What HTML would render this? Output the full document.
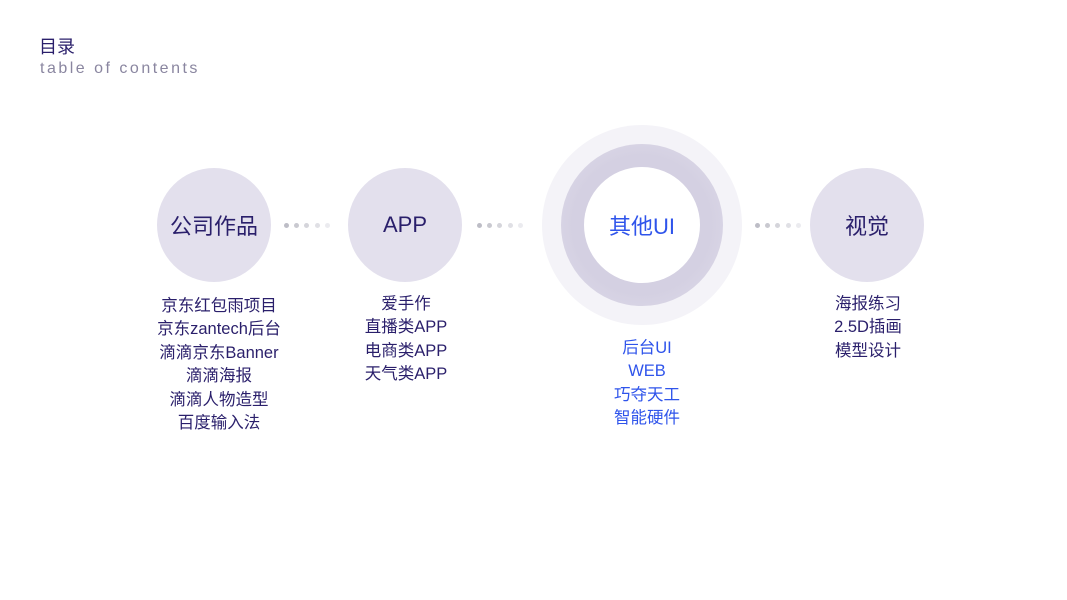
<!DOCTYPE html>
<html><head><meta charset="utf-8"><style>
body{margin:0;width:1067px;height:600px;background:#fff;position:relative;overflow:hidden;font-family:"Liberation Sans","Noto Sans CJK SC",sans-serif}
.a{position:absolute}
.c{position:absolute;border-radius:50%;background:#e3e0ed;display:flex;align-items:center;justify-content:center;color:#2a1f6b;font-size:22px}
.l{position:absolute;text-align:center;color:#2a1f6b;font-size:16.5px;line-height:23.4px;width:200px}
.d{position:absolute;width:5px;height:5px;border-radius:50%}
</style></head><body>
<div class="a" style="left:39px;top:33px;font-size:18px;color:#2a1f6b">目录</div>
<div class="a" style="left:40px;top:60px;font-size:16px;color:#8a86a0;letter-spacing:2.5px">table of contents</div>

<div class="c" style="left:157px;top:168px;width:114px;height:114px">公司作品</div>
<div class="c" style="left:348px;top:168px;width:114px;height:114px">APP</div>
<div class="c" style="left:810px;top:168px;width:114px;height:114px">视觉</div>

<div class="a" style="left:542px;top:125px;width:200px;height:200px;border-radius:50%;background:#f4f3f8"></div>
<div class="a" style="left:561px;top:144px;width:162px;height:162px;border-radius:50%;background:radial-gradient(circle,#d4d0e2 60%,#e0ddea 100%)"></div>
<div class="c" style="left:584px;top:167px;width:116px;height:116px;background:#fff;color:#2f54eb;font-size:22px">其他UI</div>

<div class="d" style="left:284px;top:223px;background:#bdbdc6"></div>
<div class="d" style="left:294px;top:223px;background:#c9c9d0"></div>
<div class="d" style="left:304px;top:223px;background:#d5d5db"></div>
<div class="d" style="left:315px;top:223px;background:#e0e0e5"></div>
<div class="d" style="left:325px;top:223px;background:#ebebef"></div>
<div class="d" style="left:477px;top:223px;background:#bdbdc6"></div>
<div class="d" style="left:487px;top:223px;background:#c9c9d0"></div>
<div class="d" style="left:497px;top:223px;background:#d5d5db"></div>
<div class="d" style="left:508px;top:223px;background:#e0e0e5"></div>
<div class="d" style="left:518px;top:223px;background:#ebebef"></div>
<div class="d" style="left:755px;top:223px;background:#bdbdc6"></div>
<div class="d" style="left:765px;top:223px;background:#c9c9d0"></div>
<div class="d" style="left:775px;top:223px;background:#d5d5db"></div>
<div class="d" style="left:786px;top:223px;background:#e0e0e5"></div>
<div class="d" style="left:796px;top:223px;background:#ebebef"></div>

<div class="l" style="left:119px;top:295px">京东红包雨项目<br>京东zantech后台<br>滴滴京东Banner<br>滴滴海报<br>滴滴人物造型<br>百度输入法</div>
<div class="l" style="left:306px;top:293px">爱手作<br>直播类APP<br>电商类APP<br>天气类APP</div>
<div class="l" style="left:547px;top:337px;color:#2f54eb">后台UI<br>WEB<br>巧夺天工<br>智能硬件</div>
<div class="l" style="left:768px;top:293px">海报练习<br>2.5D插画<br>模型设计</div>
</body></html>
